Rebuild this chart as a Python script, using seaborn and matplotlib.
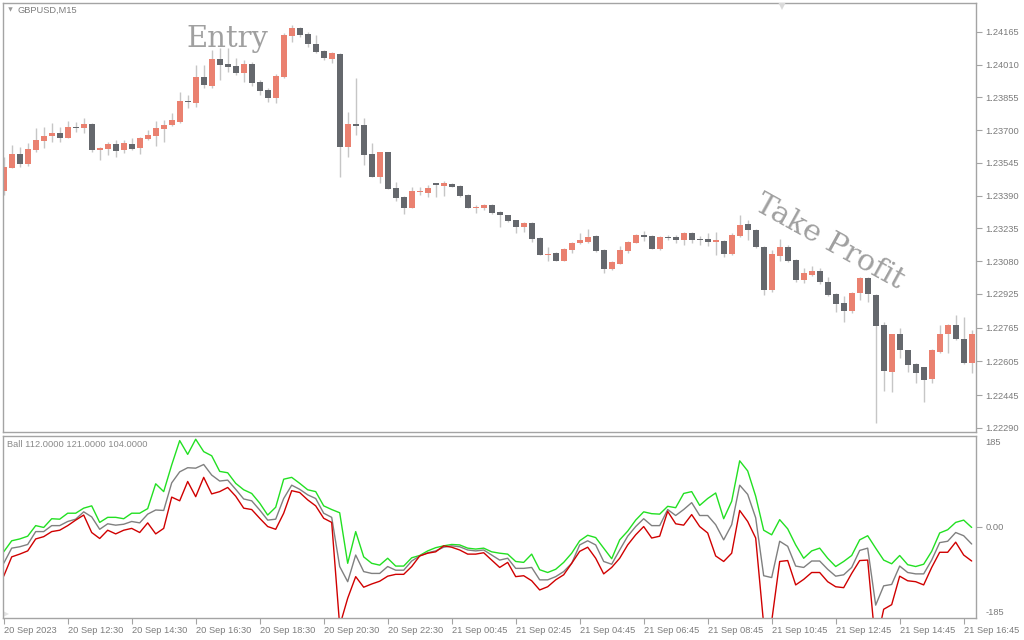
import numpy as np
import pandas as pd
import matplotlib.pyplot as plt
import seaborn as sns

# GBPUSD M15 candles, 20 Sep 10:30 .. 21 Sep 17:00
opens = [1.23414, 1.23522, 1.23587, 1.23540, 1.23606, 1.23650, 1.23674, 1.23687, 1.23664, 1.23714,
         1.23712, 1.23729, 1.23606, 1.23611, 1.23635, 1.23606, 1.23635, 1.23617, 1.23657, 1.23673,
         1.23706, 1.23725, 1.23740, 1.23838, 1.23830, 1.23953, 1.23911, 1.24037, 1.24014, 1.24004,
         1.23972, 1.24014, 1.23930, 1.23890, 1.23853, 1.23951, 1.24147, 1.24184, 1.24156, 1.24108,
         1.24075, 1.24039, 1.24061, 1.23619, 1.23728, 1.23725, 1.23587, 1.23480, 1.23595, 1.23426,
         1.23384, 1.23333, 1.23408, 1.23404, 1.23450, 1.23436, 1.23445, 1.23436, 1.23393, 1.23332,
         1.23333, 1.23346, 1.23313, 1.23298, 1.23275, 1.23243, 1.23262, 1.23190, 1.23108, 1.23119,
         1.23082, 1.23134, 1.23165, 1.23171, 1.23199, 1.23133, 1.23041, 1.23068, 1.23129, 1.23168,
         1.23204, 1.23200, 1.23138, 1.23194, 1.23196, 1.23180, 1.23215, 1.23183, 1.23185, 1.23172,
         1.23175, 1.23114, 1.23199, 1.23256, 1.23228, 1.23148, 1.22943, 1.23104, 1.23148, 1.23085,
         1.22991, 1.23014, 1.23035, 1.22981, 1.22924, 1.22880, 1.22844, 1.22928, 1.23002, 1.22920,
         1.22778, 1.22555, 1.22735, 1.22659, 1.22593, 1.22577, 1.22522, 1.22651, 1.22734, 1.22776,
         1.22709, 1.22597]
highs = [1.23575, 1.23630, 1.23622, 1.23638, 1.23712, 1.23717, 1.23733, 1.23717, 1.23744, 1.23740,
         1.23756, 1.23732, 1.23622, 1.23646, 1.23654, 1.23654, 1.23662, 1.23669, 1.23701, 1.23745,
         1.23748, 1.23780, 1.23882, 1.23867, 1.24009, 1.24009, 1.24080, 1.24088, 1.24088, 1.24041,
         1.24032, 1.24024, 1.23938, 1.23898, 1.23966, 1.24159, 1.24198, 1.24190, 1.24166, 1.24151,
         1.24080, 1.24072, 1.24067, 1.23788, 1.23946, 1.23756, 1.23638, 1.23597, 1.23597, 1.23456,
         1.23386, 1.23432, 1.23432, 1.23440, 1.23452, 1.23461, 1.23450, 1.23440, 1.23398, 1.23344,
         1.23350, 1.23350, 1.23315, 1.23300, 1.23277, 1.23267, 1.23267, 1.23192, 1.23148, 1.23121,
         1.23140, 1.23172, 1.23215, 1.23231, 1.23204, 1.23136, 1.23082, 1.23152, 1.23177, 1.23208,
         1.23224, 1.23204, 1.23199, 1.23204, 1.23204, 1.23219, 1.23219, 1.23199, 1.23212, 1.23219,
         1.23180, 1.23212, 1.23298, 1.23277, 1.23231, 1.23152, 1.23133, 1.23183, 1.23157, 1.23088,
         1.23046, 1.23057, 1.23046, 1.23003, 1.22928, 1.22915, 1.22935, 1.23003, 1.23006, 1.22922,
         1.22793, 1.22737, 1.22762, 1.22661, 1.22596, 1.22580, 1.22664, 1.22776, 1.22782, 1.22825,
         1.22814, 1.22754]
lows = [1.23393, 1.23520, 1.23527, 1.23532, 1.23598, 1.23614, 1.23646, 1.23646, 1.23664, 1.23693,
        1.23688, 1.23598, 1.23559, 1.23583, 1.23575, 1.23591, 1.23606, 1.23587, 1.23654, 1.23625,
        1.23646, 1.23722, 1.23733, 1.23804, 1.23811, 1.23898, 1.23898, 1.23938, 1.23977, 1.23961,
        1.23930, 1.23909, 1.23867, 1.23835, 1.23827, 1.23946, 1.24119, 1.24143, 1.24095, 1.24064,
        1.24032, 1.24017, 1.23480, 1.23575, 1.23677, 1.23535, 1.23478, 1.23451, 1.23421, 1.23365,
        1.23302, 1.23331, 1.23393, 1.23385, 1.23385, 1.23388, 1.23429, 1.23385, 1.23330, 1.23309,
        1.23320, 1.23302, 1.23243, 1.23267, 1.23215, 1.23219, 1.23172, 1.23108, 1.23082, 1.23079,
        1.23079, 1.23117, 1.23160, 1.23165, 1.23125, 1.23022, 1.23038, 1.23065, 1.23120, 1.23165,
        1.23177, 1.23136, 1.23133, 1.23180, 1.23165, 1.23158, 1.23165, 1.23158, 1.23152, 1.23109,
        1.23101, 1.23109, 1.23196, 1.23180, 1.23141, 1.22920, 1.22935, 1.23082, 1.23077, 1.22983,
        1.22975, 1.23010, 1.22972, 1.22915, 1.22841, 1.22793, 1.22833, 1.22896, 1.22888, 1.22315,
        1.22467, 1.22462, 1.22620, 1.22556, 1.22502, 1.22415, 1.22504, 1.22644, 1.22644, 1.22706,
        1.22593, 1.22549]
closes = [1.23527, 1.23587, 1.23540, 1.23611, 1.23654, 1.23673, 1.23687, 1.23664, 1.23715, 1.23712,
          1.23729, 1.23606, 1.23616, 1.23635, 1.23603, 1.23641, 1.23611, 1.23664, 1.23677, 1.23710,
          1.23726, 1.23748, 1.23838, 1.23832, 1.23953, 1.23914, 1.24037, 1.24009, 1.24001, 1.23972,
          1.24014, 1.23922, 1.23887, 1.23853, 1.23957, 1.24151, 1.24184, 1.24152, 1.24107, 1.24072,
          1.24042, 1.24067, 1.23619, 1.23729, 1.23721, 1.23583, 1.23480, 1.23595, 1.23423, 1.23380,
          1.23333, 1.23412, 1.23414, 1.23426, 1.23442, 1.23450, 1.23432, 1.23390, 1.23333, 1.23338,
          1.23346, 1.23309, 1.23298, 1.23270, 1.23243, 1.23262, 1.23185, 1.23111, 1.23114, 1.23082,
          1.23138, 1.23167, 1.23182, 1.23194, 1.23129, 1.23041, 1.23077, 1.23133, 1.23171, 1.23204,
          1.23196, 1.23139, 1.23194, 1.23191, 1.23180, 1.23215, 1.23180, 1.23179, 1.23172, 1.23180,
          1.23114, 1.23204, 1.23251, 1.23228, 1.23146, 1.22943, 1.23114, 1.23148, 1.23081, 1.22991,
          1.23022, 1.23035, 1.22980, 1.22920, 1.22877, 1.22844, 1.22928, 1.23002, 1.22924, 1.22773,
          1.22560, 1.22735, 1.22659, 1.22588, 1.22552, 1.22517, 1.22660, 1.22735, 1.22776, 1.22709,
          1.22599, 1.22737]

# "Ball" indicator lines
ball_upper = [-54, -30, -26, -20, 3, -1, 18, 17, 30, 30,
              41, 46, 10, 21, 21, 18, 30, 30, 40, 94,
              77, 135, 188, 158, 191, 164, 155, 121, 118, 95,
              81, 73, 52, 26, 43, 104, 108, 95, 81, 77,
              46, 38, 31, -79, -10, -65, -79, -83, -68, -85,
              -85, -67, -62, -52, -45, -41, -38, -39, -46, -48,
              -46, -54, -57, -59, -75, -77, -59, -93, -99, -92,
              -77, -57, -30, -18, -23, -46, -69, -28, -9, 15,
              33, 29, 28, 45, 42, 73, 77, 47, 62, 74,
              18, 56, 144, 122, 67, -7, -17, 16, -4, -39,
              -68, -52, -46, -68, -86, -75, -62, -28, -19, -46,
              -72, -80, -62, -82, -86, -81, -53, -13, -6, 10,
              15, -1]
ball_mid = [-79, -46, -43, -38, -10, -10, 3, 3, 12, 17,
            33, 22, -5, 7, 4, 6, 12, 9, 28, 37,
            36, 96, 120, 129, 128, 136, 113, 100, 102, 82,
            61, 57, 37, 15, 17, 62, 91, 82, 70, 62,
            30, 21, -86, -119, -61, -97, -101, -101, -86, -94,
            -94, -74, -63, -56, -52, -44, -41, -43, -50, -52,
            -50, -61, -72, -68, -90, -90, -88, -115, -115, -108,
            -97, -79, -39, -30, -39, -75, -81, -50, -20, 1,
            18, 3, 3, 38, 25, 38, 53, 25, 25, 5,
            -28, 5, 91, 71, 20, -106, -110, -31, -42, -85,
            -88, -74, -74, -92, -107, -104, -88, -51, -46, -170,
            -128, -125, -85, -99, -102, -102, -72, -34, -31, -12,
            -19, -37]
ball_lower = [-107, -65, -59, -52, -26, -21, -10, -7, 3, 15,
              26, -12, -25, -7, -15, -7, -3, -12, 9, -15,
              -3, 65, 57, 99, 66, 108, 72, 77, 86, 67,
              41, 38, 19, 1, -5, 30, 79, 75, 59, 46,
              19, 10, -215, -155, -108, -131, -124, -118, -107, -103,
              -103, -86, -63, -57, -54, -41, -44, -50, -59, -59,
              -56, -72, -88, -77, -108, -106, -117, -137, -130, -115,
              -104, -79, -53, -44, -68, -102, -88, -68, -39, -17,
              1, -24, -20, 34, 7, 4, 27, 1, -13, -63,
              -75, -57, 36, 12, -24, -212, -205, -75, -73, -126,
              -114, -99, -99, -119, -130, -132, -101, -73, -72, -260,
              -179, -169, -107, -117, -119, -126, -88, -55, -55, -33,
              -61, -74]

price_ticks = [1.24165, 1.24010, 1.23855, 1.23700, 1.23545, 1.23390, 1.23235,
               1.23080, 1.22925, 1.22765, 1.22605, 1.22445, 1.22290]
ball_ticks = [187, 0, -183]
ball_tick_labels = ["185", "0.00", "-185"]
time_labels = ["20 Sep 2023", "20 Sep 12:30", "20 Sep 14:30", "20 Sep 16:30",
               "20 Sep 18:30", "20 Sep 20:30", "20 Sep 22:30", "21 Sep 00:45",
               "21 Sep 02:45", "21 Sep 04:45", "21 Sep 06:45", "21 Sep 08:45",
               "21 Sep 10:45", "21 Sep 12:45", "21 Sep 14:45", "21 Sep 16:45"]

sns.set_style("white")
plt.rcParams['font.family'] = ['Liberation Sans', 'DejaVu Sans']

df = pd.DataFrame({"open": opens, "high": highs, "low": lows, "close": closes})
df["bar"] = np.arange(len(df))
bull = df["close"] >= df["open"]

ind = pd.DataFrame({"bar": np.arange(len(ball_mid)), "upper": ball_upper,
                    "mid": ball_mid, "lower": ball_lower})

W, H = 1024, 640
fig = plt.figure(figsize=(10.24, 6.4), dpi=100)
ax = fig.add_axes([2.5 / W, 1 - 432 / H, 973.5 / W, 429 / H])
ax2 = fig.add_axes([2.5 / W, 1 - 618 / H, 973.5 / W, 182 / H])

frame = "#a4a4a4"
txt = "#7c7c7c"

# candles
ax.vlines(df["bar"], df["low"], df["high"], color="#c6c6c6", lw=1, zorder=1)
body_lo = np.minimum(df["open"], df["close"])
body_h = np.maximum((df["close"] - df["open"]).abs(), 0.00004)
ax.bar(df["bar"], body_h, bottom=body_lo, width=0.78,
       color=np.where(bull, "#ea8170", "#65686d"), linewidth=0, zorder=2)

ax.set_xlim(-0.15, 121.54)
ax.set_ylim(1.22271, 1.24302)
ax.yaxis.tick_right()
ax.set_yticks(price_ticks)
ax.set_yticklabels([f"{v:.5f}" for v in price_ticks])
ax.tick_params(axis="y", right=True, direction="out", length=4, width=0.8,
               color=frame, labelsize=6.7, labelcolor=txt, pad=3)
ax.tick_params(axis="x", bottom=False, labelbottom=False)

ax.text(0.0159, 0.9837, "GBPUSD,M15", transform=ax.transAxes, fontsize=6.7,
        color=txt, va="center", ha="left")
ax.plot(0.0072, 0.985, marker="v", ms=3.2, color="#9a9a9a", mew=0,
        transform=ax.transAxes)
ax.plot(0.8007, 0.993, marker="v", ms=6, color="#dadada", mew=0,
        transform=ax.transAxes, zorder=5)

ax.text(0.2306, 0.8974, "Entry", transform=ax.transAxes, fontsize=21,
        family="DejaVu Serif", color="#a0a0a0", ha="center", va="baseline")
ax.text(0.849, 0.443, "Take Profit", transform=ax.transAxes, fontsize=21.5,
        family="DejaVu Serif", color="#a0a0a0", ha="center", va="center",
        rotation=-29, rotation_mode="anchor")

# indicator panel
sns.lineplot(data=ind, x="bar", y="upper", color="#22e022", lw=1, ax=ax2)
sns.lineplot(data=ind, x="bar", y="mid", color="#808080", lw=1, ax=ax2)
sns.lineplot(data=ind, x="bar", y="lower", color="#d00000", lw=1, ax=ax2)
ax2.set_xlim(-0.15, 121.54)
ax2.set_ylim(-198, 198)
ax2.set_xlabel("")
ax2.set_ylabel("")
ax2.yaxis.tick_right()
ax2.set_yticks(ball_ticks)
ax2.set_yticklabels(ball_tick_labels)
ax2.tick_params(axis="y", right=True, direction="out", length=4, width=0.8,
                color=frame, labelsize=6.7, labelcolor=txt, pad=3)
for i in (0, 2):
    ax2.yaxis.get_major_ticks()[i].tick2line.set_visible(False)
ax2.set_xticks(range(0, 121, 8))
ax2.set_xticklabels(time_labels, ha="left")
ax2.tick_params(axis="x", bottom=True, direction="out", length=4, width=0.8,
                color=frame, labelsize=6.7, labelcolor=txt, pad=2)
ax2.text(0.0046, 0.956, "Ball 112.0000 121.0000 104.0000", transform=ax2.transAxes,
         fontsize=6.7, color="#8a8a8a", va="center", ha="left")
ax2.plot(0.004, 0.02, marker=">", ms=5, color="#e2e2e2", mew=0,
         transform=ax2.transAxes)

for a in (ax, ax2):
    for s in a.spines.values():
        s.set_color(frame)
        s.set_linewidth(1)

fig.savefig("out.png", dpi=100)
